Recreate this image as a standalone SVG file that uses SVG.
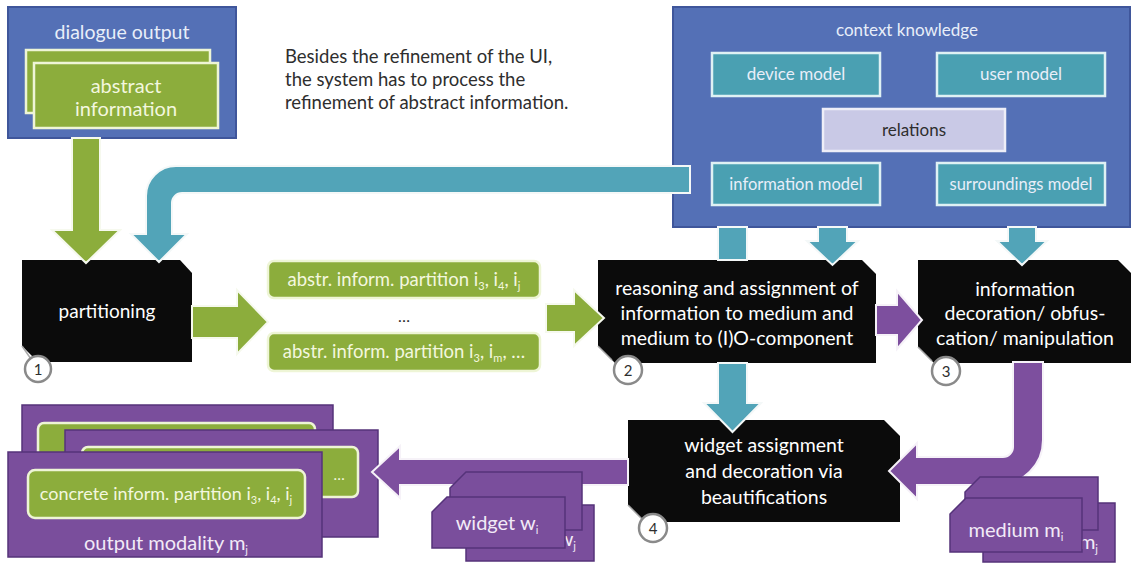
<svg xmlns="http://www.w3.org/2000/svg" width="1134" height="565" viewBox="0 0 1134 565">
<style>
text{font-family:Lato,"Open Sans","Liberation Sans",sans-serif;text-anchor:middle}
.pale{fill:#e8eef9}
.wt{fill:#ffffff}
.gt{fill:#f3f7df}
.pt{fill:#f2eaf7}
.dk{fill:#2e2e2e}
.blue{fill:#5470b6;stroke:#3f569b;stroke-width:2}
.teal{fill:#4aa0b2;stroke:#dff1f4;stroke-width:2.5}
.rel{fill:#c9c9e6;stroke:#eeeef8;stroke-width:2.5}
.green{fill:#8cad3c;stroke:#eef5d6;stroke-width:2.5}
.black{fill:#0b0b0b}
.card{fill:#7a4e9c;stroke:#55337a;stroke-width:1.5}
.circ{fill:#ffffff;stroke:#8a8a8a;stroke-width:2.5}
.chamf{stroke:#a8a8a8;stroke-width:1.5}
.aT{fill:#52a4b8;stroke:#f4f8f8;stroke-width:2}
.aG{fill:#8cad3c;stroke:#f6f9ee;stroke-width:2}
.aP{fill:#7d4f9e;stroke:#f6f2f8;stroke-width:2}
</style>
<rect x="0" y="0" width="1134" height="565" fill="#ffffff"/>

<g id="note">
<text x="285" y="63" font-size="18.5" class="dk" style="text-anchor:start">Besides the refinement of the UI,</text>
<text x="285" y="86" font-size="18.5" class="dk" style="text-anchor:start">the system has to process the</text>
<text x="285" y="109" font-size="18.5" class="dk" style="text-anchor:start">refinement of abstract information.</text>
</g>

<g id="dialogue-output">
<rect x="8" y="7" width="228" height="131" class="blue"/>
<text x="122" y="39" font-size="19.5" class="pale">dialogue output</text>
<rect x="26" y="50" width="184" height="63" class="green"/>
<rect x="34" y="63" width="184" height="65" class="green"/>
<text x="126" y="93" font-size="20" class="gt">abstract</text>
<text x="126" y="116" font-size="20" class="gt">information</text>
</g>

<g id="context-knowledge">
<rect x="673" y="7" width="457" height="220" class="blue"/>
<text x="907" y="36" font-size="17" class="pale">context knowledge</text>
<g id="device-model"><rect x="712" y="53" width="168" height="43" class="teal"/><text x="796" y="80" font-size="17" class="pale">device model</text></g>
<g id="user-model"><rect x="937" y="53" width="168" height="43" class="teal"/><text x="1021" y="80" font-size="17" class="pale">user model</text></g>
<g id="relations"><rect x="823" y="109" width="182" height="42" class="rel"/><text x="914" y="136" font-size="17" class="dk">relations</text></g>
<g id="information-model"><rect x="712" y="163" width="168" height="42" class="teal"/><text x="796" y="190" font-size="16.5" class="pale">information model</text></g>
<g id="surroundings-model"><rect x="937" y="163" width="168" height="42" class="teal"/><text x="1021" y="190" font-size="16.5" class="pale">surroundings model</text></g>
</g>

<g id="partitioning">
<path d="M22,260 L180,260 L192,273 L192,362 L38,362 L22,346 Z" class="black"/>
<line x1="22" y1="346" x2="31" y2="359" class="chamf"/>
<text x="107" y="318" font-size="19" class="wt">partitioning</text>
<circle cx="38" cy="369" r="13" class="circ"/>
<text x="38" y="375" font-size="15" class="dk">1</text>
</g>

<g id="partition-1">
<rect x="268" y="261" width="272" height="37" rx="6" class="green"/>
<text x="404" y="286" font-size="18.5" class="gt">abstr. inform. partition i<tspan font-size="11" dy="4">3</tspan><tspan dy="-4">, i</tspan><tspan font-size="11" dy="4">4</tspan><tspan dy="-4">, i</tspan><tspan font-size="11" dy="4">j</tspan></text>
</g>
<g id="partition-dots"><text x="404" y="322" font-size="16" class="dk">…</text></g>
<g id="partition-2">
<rect x="268" y="333" width="272" height="38" rx="6" class="green"/>
<text x="404" y="358" font-size="18.5" class="gt">abstr. inform. partition i<tspan font-size="11" dy="4">3</tspan><tspan dy="-4">, i</tspan><tspan font-size="11" dy="4">m</tspan><tspan dy="-4">, …</tspan></text>
</g>

<g id="reasoning">
<path d="M598,260 L862,260 L876,274 L876,363 L615,363 L598,346 Z" class="black"/>
<line x1="598" y1="346" x2="612" y2="360" class="chamf"/>
<text x="737" y="295" font-size="19.5" class="wt">reasoning and assignment of</text>
<text x="737" y="320" font-size="19.5" class="wt">information to medium and</text>
<text x="737" y="345" font-size="19.5" class="wt">medium to (I)O-component</text>
<circle cx="628" cy="370" r="14" class="circ"/>
<text x="628" y="376" font-size="15" class="dk">2</text>
</g>

<g id="decoration">
<path d="M918,260 L1118,260 L1131,273 L1131,363 L934,363 L918,347 Z" class="black"/>
<line x1="918" y1="347" x2="932" y2="361" class="chamf"/>
<text x="1025" y="296" font-size="19.5" class="wt">information</text>
<text x="1025" y="320" font-size="19.5" class="wt">decoration/  obfus-</text>
<text x="1025" y="345" font-size="19.5" class="wt">cation/ manipulation</text>
<circle cx="946" cy="371" r="14" class="circ"/>
<text x="946" y="377" font-size="15" class="dk">3</text>
</g>

<g id="widget-assignment">
<path d="M628,420 L884,420 L900,436 L900,522 L645,522 L628,505 Z" class="black"/>
<line x1="628" y1="505" x2="642" y2="519" class="chamf"/>
<text x="764" y="452" font-size="19.5" class="wt">widget assignment</text>
<text x="764" y="478" font-size="19.5" class="wt">and decoration via</text>
<text x="764" y="504" font-size="19.5" class="wt">beautifications</text>
<circle cx="653" cy="528" r="14" class="circ"/>
<text x="653" y="534" font-size="15" class="dk">4</text>
</g>

<g id="output-modality">
<rect x="22" y="405" width="311" height="100" class="card"/>
<rect x="38" y="423" width="277" height="50" rx="6" class="green"/>
<rect x="65" y="430" width="313" height="107" class="card"/>
<rect x="82" y="447" width="276" height="50" rx="6" class="green"/>
<text x="339" y="480" font-size="15" class="gt">…</text>
<rect x="8" y="452" width="314" height="105" class="card"/>
<rect x="28" y="470" width="277" height="48" rx="7" class="green"/>
<text x="166" y="500" font-size="18" class="gt">concrete inform. partition i<tspan font-size="11" dy="4">3</tspan><tspan dy="-4">, i</tspan><tspan font-size="11" dy="4">4</tspan><tspan dy="-4">, i</tspan><tspan font-size="11" dy="4">j</tspan></text>
<text x="166" y="550" font-size="20" class="pt">output modality m<tspan font-size="11" dy="4">j</tspan></text>
</g>

<g id="connectors">
<path d="M72,138 L100,138 L100,230 L120,230 L86,263 L52,230 L72,230 Z" class="aG"/>
<path d="M690,166 L176,166 A30,30 0 0 0 146,196 L146,234 L131,234 L159,262 L187,234 L172,234 L172,203 A10,10 0 0 1 182,193 L690,193 Z" class="aT"/>
<path d="M718,227 L747,227 L747,260 L718,260 Z" class="aT"/>
<path d="M718,363 L747,363 L747,403 L761,403 L732.5,432 L704,403 L718,403 Z" class="aT"/>
<path d="M818,227 L847,227 L847,241 L858,241 L832.5,265 L807,241 L818,241 Z" class="aT"/>
<path d="M1008,227 L1036,227 L1036,241 L1047,241 L1022,265 L997,241 L1008,241 Z" class="aT"/>
<path d="M192,306 L237,306 L237,290 L268,322 L237,354 L237,338 L192,338 Z" class="aG"/>
<path d="M546,304 L574,304 L574,290 L604,318 L574,346 L574,332 L546,332 Z" class="aG"/>
<path d="M876,305 L897,305 L897,291 L922,320 L897,349 L897,335 L876,335 Z" class="aP"/>
<path d="M1013,362 L1043,362 L1043,440 A45,45 0 0 1 998,485 L917,485 L917,499 L889,471 L917,443 L917,457 L1003,457 A10,10 0 0 0 1013,447 Z" class="aP"/>
<path d="M628,459 L400,459 L400,446 L372,472 L400,498 L400,485 L628,485 Z" class="aP"/>
</g>

<g id="widget">
<path d="M483,505 L594,505 L594,561 L466,561 L466,521 Z" class="card"/>
<text x="576" y="546" font-size="20" class="pt" style="text-anchor:end">w<tspan font-size="11" dy="4">j</tspan></text>
<path d="M466,472 L582,472 L582,530 L450,530 L450,488 Z" class="card"/>
<path d="M447,497 L565,497 L565,548 L432,548 L432,512 Z" class="card"/>
<text x="497" y="530" font-size="20" class="pt">widget w<tspan font-size="11" dy="4">i</tspan></text>
</g>

<g id="medium">
<path d="M999,503 L1115,503 L1115,562 L983,562 L983,519 Z" class="card"/>
<text x="1098" y="549" font-size="20" class="pt" style="text-anchor:end">m<tspan font-size="11" dy="4">j</tspan></text>
<path d="M980,477 L1098,477 L1098,530 L965,530 L965,492 Z" class="card"/>
<path d="M966,498 L1082,498 L1082,552 L950,552 L950,514 Z" class="card"/>
<text x="1016" y="537" font-size="20" class="pt">medium m<tspan font-size="11" dy="4">i</tspan></text>
</g>
</svg>
